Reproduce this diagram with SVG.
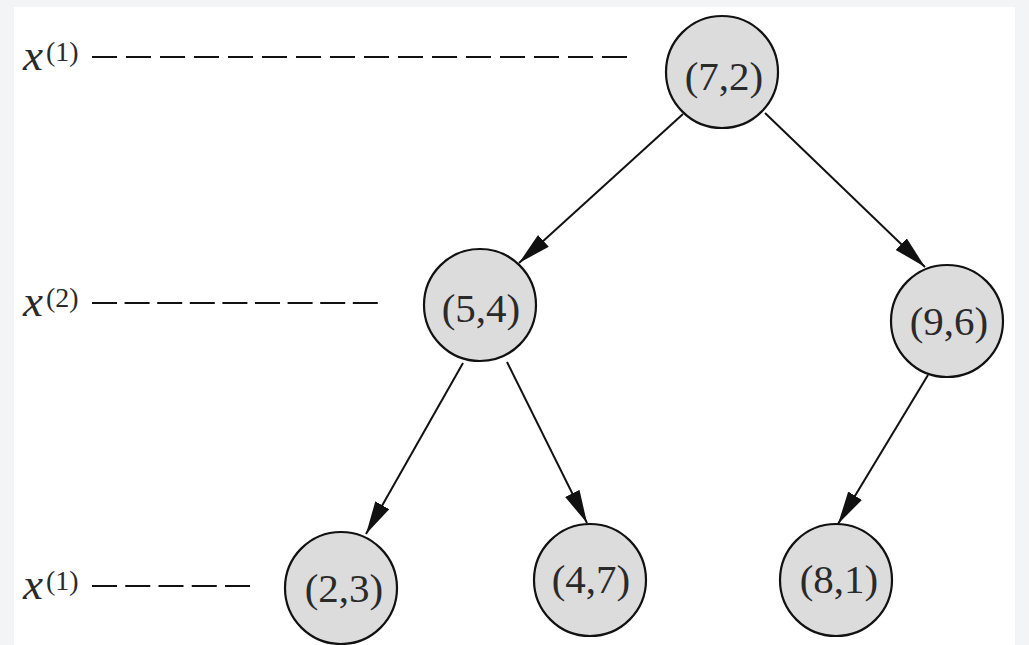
<svg xmlns="http://www.w3.org/2000/svg" width="1029" height="645" viewBox="0 0 1029 645">
  <style>
    .node circle { fill: #dcdcdc; stroke: #111; stroke-width: 2.2; }
    .node text { font-family: "Liberation Serif", "Times New Roman", serif; font-size: 41px; fill: #2a2a2a; text-anchor: middle; }
    .edge { stroke: #111; stroke-width: 2; fill: none; marker-end: url(#arrow); }
    .dash { stroke: #111; stroke-width: 2.2; fill: none; }
    .lbl { font-family: "Liberation Serif", "Times New Roman", serif; fill: #2a2a2a; }
    .lbl .v { font-style: italic; font-size: 45px; }
    .lbl .s { font-size: 28px; }
  </style>
  <defs>
    <marker id="arrow" markerUnits="userSpaceOnUse" markerWidth="36" markerHeight="18" refX="33" refY="8" orient="auto">
      <path d="M0,0 L33,8 L0,16 Z" fill="#111"/>
    </marker>
  </defs>
  <rect x="0" y="0" width="1029" height="645" fill="#f3f4f6"/>
  <rect x="14" y="7" width="1001" height="640" fill="#ffffff"/>

  <g id="levels">
    <g id="level1">
      <text class="lbl" x="23" y="70"><tspan class="v">x</tspan><tspan class="s" dx="3" dy="-9">(1)</tspan></text>
      <line class="dash" x1="92" y1="57" x2="627" y2="57" stroke-dasharray="25 9"/>
    </g>
    <g id="level2">
      <text class="lbl" x="23" y="316"><tspan class="v">x</tspan><tspan class="s" dx="3" dy="-9">(2)</tspan></text>
      <line class="dash" x1="92" y1="303" x2="378" y2="303" stroke-dasharray="25 7.6"/>
    </g>
    <g id="level3">
      <text class="lbl" x="23" y="599"><tspan class="v">x</tspan><tspan class="s" dx="3" dy="-9">(1)</tspan></text>
      <line class="dash" x1="92" y1="586" x2="250" y2="586" stroke-dasharray="25 8.25"/>
    </g>
  </g>

  <g id="connectors">
    <line class="edge" x1="683" y1="114" x2="519" y2="263"/>
    <line class="edge" x1="765" y1="113" x2="925" y2="267"/>
    <line class="edge" x1="463" y1="363" x2="366" y2="534"/>
    <line class="edge" x1="507" y1="362" x2="587" y2="523"/>
    <line class="edge" x1="928" y1="375" x2="838" y2="524"/>
  </g>

  <g id="n72" class="node"><circle cx="722" cy="72" r="56"/><text x="724" y="90">(7,2)</text></g>
  <g id="n54" class="node"><circle cx="480" cy="305" r="56"/><text x="481" y="322">(5,4)</text></g>
  <g id="n96" class="node"><circle cx="947" cy="321" r="56"/><text x="949" y="335">(9,6)</text></g>
  <g id="n23" class="node"><circle cx="341" cy="588" r="56"/><text x="344" y="602">(2,3)</text></g>
  <g id="n47" class="node"><circle cx="590" cy="580" r="56"/><text x="591" y="593">(4,7)</text></g>
  <g id="n81" class="node"><circle cx="836" cy="580" r="56"/><text x="839" y="593">(8,1)</text></g>
</svg>
